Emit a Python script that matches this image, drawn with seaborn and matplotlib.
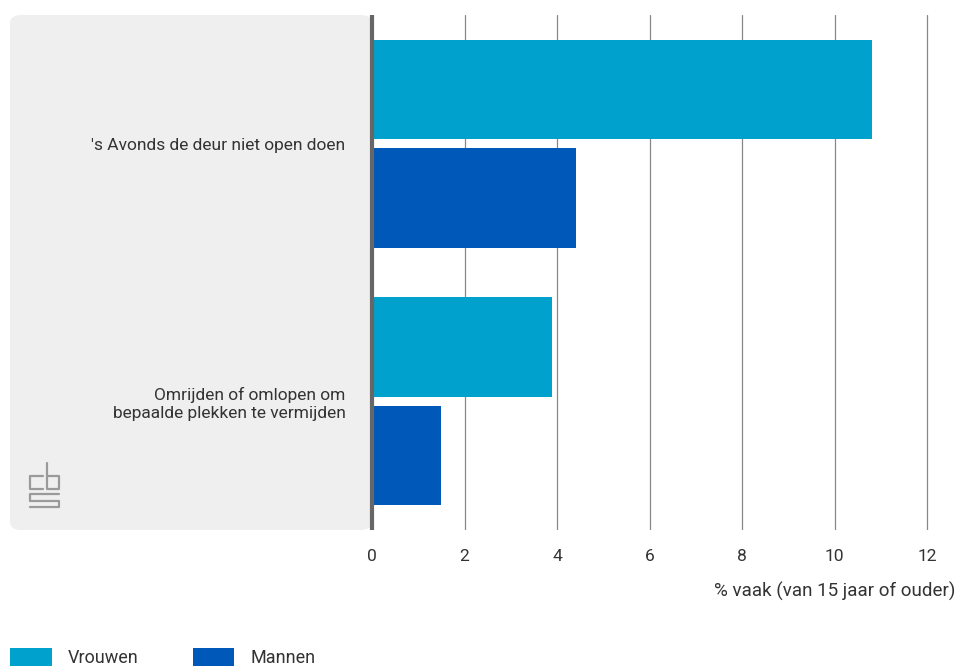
import matplotlib
matplotlib.use("Agg")
import matplotlib.pyplot as plt
from matplotlib.patches import FancyBboxPatch, Patch
import pandas as pd
import seaborn as sns

# data
categories = ["'s Avonds de deur niet open doen",
              "Omrijden of omlopen om\nbepaalde plekken te vermijden"]
vrouwen = [10.8, 3.9]
mannen = [4.4, 1.5]
groups = ["Vrouwen", "Mannen"]
colors = ["#00a1cd", "#0058b8"]

df = pd.DataFrame({
    "categorie": categories * 2,
    "waarde": vrouwen + mannen,
    "groep": [groups[0]] * len(categories) + [groups[1]] * len(categories),
})

sns.set_style("white")
plt.rcParams["font.family"] = ["Roboto", "DejaVu Sans"]
text_col = "#333333"

fig = plt.figure(figsize=(9.59, 6.7), dpi=100)
# grey panel behind the category labels
panel = FancyBboxPatch((10 / 959, 1 - 530 / 670), (372 - 10) / 959, (530 - 15) / 670,
                       boxstyle="round,pad=0,rounding_size=0.012",
                       transform=fig.transFigure, facecolor="#efefef",
                       edgecolor="none", zorder=-5)
fig.patches.append(panel)

# axes slightly wider than 0..12 so the last grid line is not clipped
ax = fig.add_axes([372 / 959, 1 - 530 / 670, (929 - 372) / 959, (530 - 15) / 670])
ax.patch.set_alpha(0)

sns.barplot(data=df, y="categorie", x="waarde", hue="groep", palette=colors,
            orient="h", width=0.84, gap=0.08, saturation=1, linewidth=0,
            ax=ax, legend=False, zorder=3)

ax.set_xlim(0, 12 * 557 / 555)
ax.set_xticks(range(0, 13, 2))
ax.grid(axis="x", color="#888888", linewidth=0.9, zorder=0)
ax.set_axisbelow(True)
for s in ["top", "right", "bottom"]:
    ax.spines[s].set_visible(False)
ax.spines["left"].set_color("#666666")
ax.spines["left"].set_linewidth(3)
ax.spines["left"].set_capstyle("butt")
ax.spines["left"].set_zorder(5)

ax.tick_params(axis="x", length=0, pad=14, labelsize=12.5, labelcolor=text_col)
ax.tick_params(axis="y", length=0, pad=19, labelsize=12.5, labelcolor=text_col)
for lab in ax.get_yticklabels():
    lab.set_horizontalalignment("right")
ax.set_ylabel("")
ax.set_xlabel("% vaak (van 15 jaar of ouder)", fontsize=13.5, color=text_col)
ax.xaxis.set_label_coords(955 / 959, 1 - 591 / 670, transform=fig.transFigure)
ax.xaxis.label.set_horizontalalignment("right")
ax.xaxis.label.set_verticalalignment("center")

# simple cbs logo sketch
lc = "#9a9a9a"
def fl(xs, ys):
    fig.add_artist(plt.Line2D([x / 959 for x in xs], [1 - y / 670 for y in ys],
                              color=lc, linewidth=1.6, transform=fig.transFigure))
fl([43, 30, 30, 43], [476, 476, 489, 489])
fl([47, 47, 59, 59, 47], [463, 489, 489, 476, 476])
fl([59, 30, 30, 59, 59, 30], [494, 494, 500.5, 500.5, 507, 507])

# legend
handles = [Patch(facecolor=c, edgecolor="none") for c in colors]
fig.legend(handles, groups, loc="lower left", bbox_to_anchor=(10 / 959, 0.004),
           ncol=2, frameon=False, fontsize=13, handlelength=2.3, handleheight=1.2,
           handletextpad=0.9, columnspacing=3.0, labelcolor=text_col,
           borderaxespad=0, borderpad=0)

fig.savefig("out.png", dpi=100)
